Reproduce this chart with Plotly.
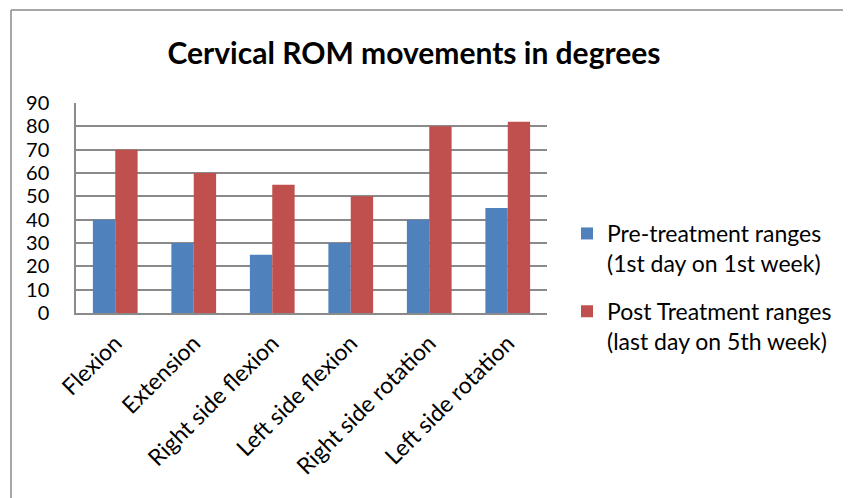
import plotly.graph_objects as go

categories = ["Flexion", "Extension", "Right side flexion", "Left side flexion",
              "Right side rotation", "Left side rotation"]
pre_values = [40, 30, 25, 30, 40, 45]
post_values = [70, 60, 55, 50, 80, 82]
series_names = ["Pre-treatment ranges<br>(1st day on 1st week)",
                "Post Treatment ranges<br>(last day on 5th week)"]
y_ticks = list(range(0, 91, 10))

# page has an 8px body margin; work in page pixels and subtract it
OFF = 8
W, H = 851 - OFF, 498 - OFF
L, R, T, B = 76 - OFF, 547 - OFF, 103 - OFF, 313 - OFF

FONT = "Lato"
GREY = "#8a8a8a"

fig = go.Figure()
fig.add_trace(go.Bar(x=categories, y=pre_values, name=series_names[0],
                     legendgroup="pre",
                     marker=dict(color="#4F81BD", line=dict(width=0))))
fig.add_trace(go.Bar(x=categories, y=post_values, name=series_names[1],
                     legendgroup="post",
                     marker=dict(color="#C0504D", line=dict(width=0))))

def px_x(p):
    return (p - OFF - L) / (R - L)

def px_y(p):
    return (B - (p - OFF)) / (B - T)

shapes = [
    dict(type="line", xref="paper", yref="paper", x0=px_x(11), x1=px_x(11),
         y0=px_y(10), y1=px_y(520), line=dict(color=GREY, width=1.5)),
    dict(type="line", xref="paper", yref="paper", x0=px_x(11), x1=px_x(900),
         y0=px_y(10), y1=px_y(10), line=dict(color=GREY, width=1.5)),
]

fig.update_layout(
    width=W, height=H,
    margin=dict(l=L, r=W - R, t=T, b=H - B, autoexpand=False),
    paper_bgcolor="white", plot_bgcolor="white",
    font=dict(family=FONT, size=22, color="black"),
    barmode="group", bargap=0.43, bargroupgap=0,
    title=dict(text="<b>Cervical ROM movements in degrees</b>",
               x=(414 - OFF) / W, xanchor="center", xref="container",
               y=1 - (53 - OFF) / H, yanchor="middle", yref="container",
               font=dict(family=FONT, size=30, color="black")),
    showlegend=True,
    legend=dict(x=px_x(567), xanchor="left", y=px_y(212), yanchor="top",
                font=dict(family=FONT, size=23, color="black"),
                valign="top", bgcolor="rgba(0,0,0,0)",
                tracegroupgap=15, traceorder="grouped"),
    shapes=shapes,
)

fig.update_xaxes(showgrid=False, showline=True, linecolor=GREY, linewidth=1.5,
                 tickangle=-45, ticks="", automargin=False,
                 ticklabelstandoff=6,
                 tickfont=dict(family=FONT, size=23, color="black"))
fig.update_yaxes(range=[0, 90], tickvals=y_ticks, showgrid=True,
                 gridcolor=GREY, gridwidth=1.5, showline=True, linecolor=GREY,
                 linewidth=1.5, zeroline=False, ticks="", automargin=False,
                 ticklabelstandoff=21,
                 tickfont=dict(family=FONT, size=20, color="black"))

fig.write_html("out.html")
